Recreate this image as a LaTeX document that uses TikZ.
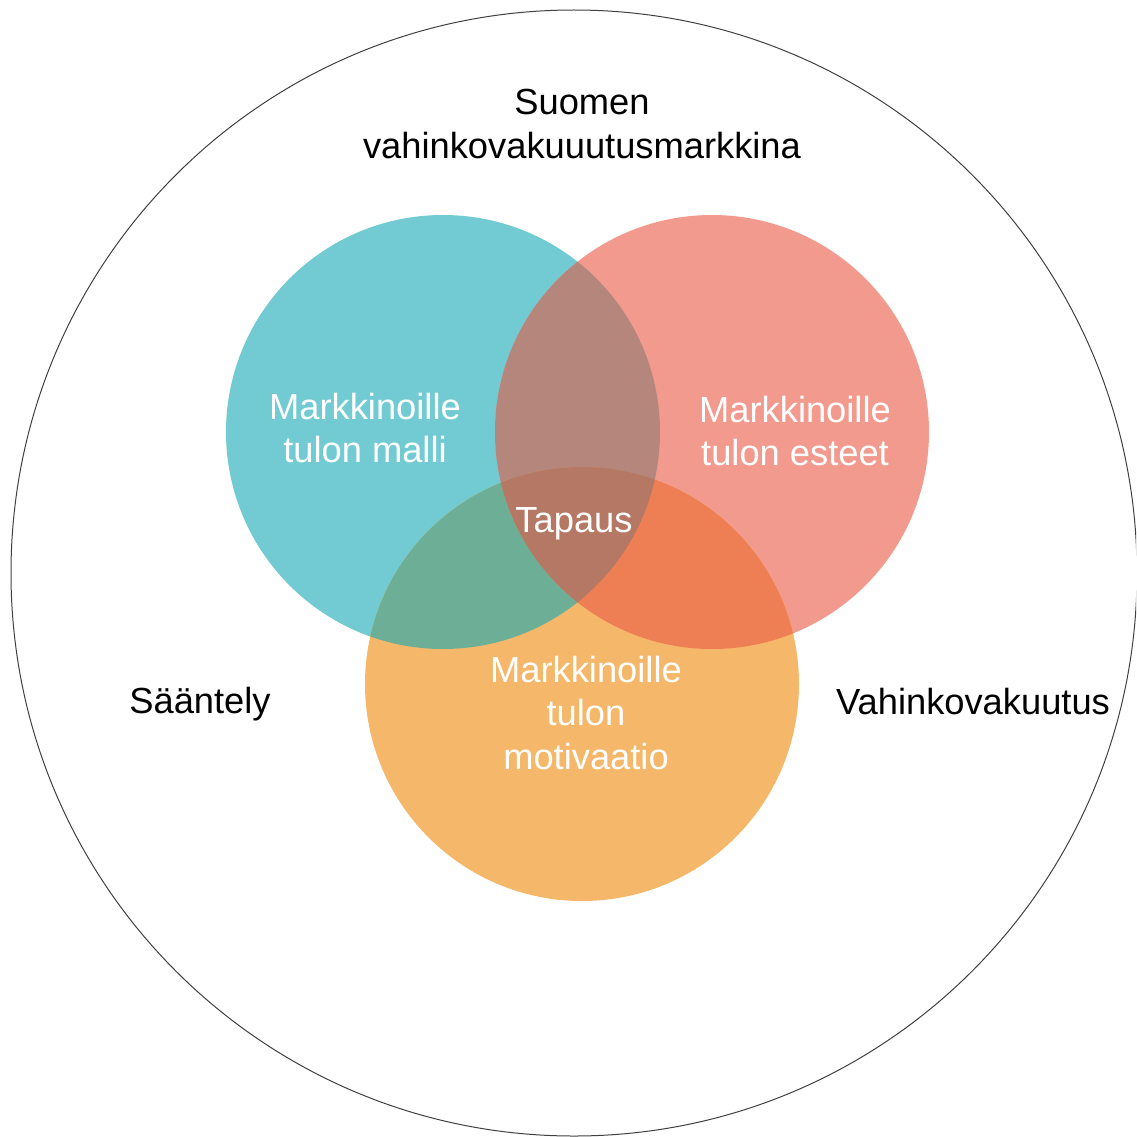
\documentclass[tikz,border=0pt]{standalone}
\usepackage{fontspec}
\setmainfont{Liberation Sans}
\definecolor{cteal}{HTML}{72CBD2}
\definecolor{cred}{HTML}{F19A8D}
\definecolor{corange}{HTML}{F5B76A}
\definecolor{ctr}{HTML}{B5877C}
\definecolor{cto}{HTML}{6CAF96}
\definecolor{cro}{HTML}{EE7F55}
\definecolor{call}{HTML}{B47864}
\begin{document}
\begin{tikzpicture}[x=1pt,y=-1pt,
  lbl/.style={font=\fontsize{36.3}{43.5}\selectfont, align=center, inner sep=0pt},
  wlbl/.style={lbl, text=white}]
\useasboundingbox (0,0) rectangle (1136,1137);
\clip (0,0) rectangle (1136,1137);
\coordinate (T) at (443,432);
\coordinate (R) at (712,432);
\coordinate (O) at (582,684);
\coordinate (C) at (574,573);
\draw[line width=1pt, draw=black!75] (C) circle (563);
\fill[cteal] (T) circle (217);
\fill[cred] (R) circle (217);
\fill[corange] (O) circle (217);
\begin{scope}
  \clip (T) circle (217);
  \fill[ctr] (R) circle (217);
\end{scope}
\begin{scope}
  \clip (T) circle (217);
  \fill[cto] (O) circle (217);
\end{scope}
\begin{scope}
  \clip (R) circle (217);
  \fill[cro] (O) circle (217);
\end{scope}
\begin{scope}
  \clip (T) circle (217);
  \clip (R) circle (217);
  \fill[call] (O) circle (217);
\end{scope}
\node[lbl] (title) at (582,124) {Suomen\\vahinkovakuuutusmarkkina};
\node[wlbl] (malli) at (365,428) {Markkinoille\\tulon malli};
\node[wlbl] (esteet) at (795,431) {Markkinoille\\tulon esteet};
\node[wlbl] (tapaus) at (574,524) {Tapaus};
\node[wlbl] (motiv) at (586,713) {Markkinoille\\tulon\\motivaatio};
\node[lbl] (saant) at (200,704) {Sääntely};
\node[lbl] (vahinko) at (973,702) {Vahinkovakuutus};
\end{tikzpicture}
\end{document}
